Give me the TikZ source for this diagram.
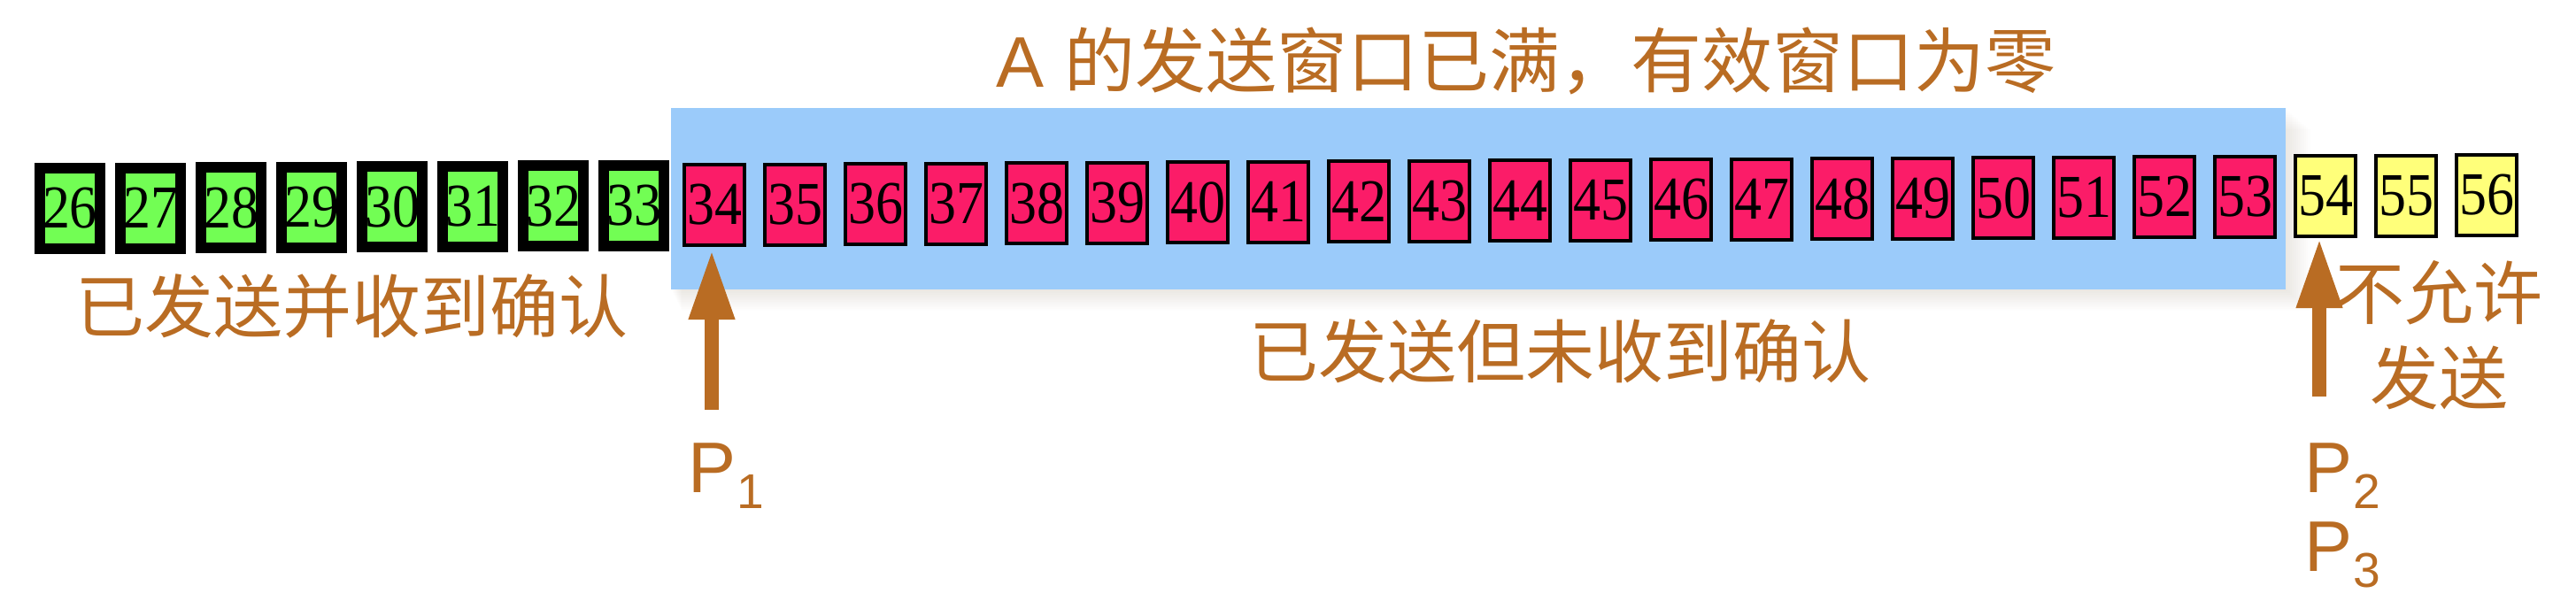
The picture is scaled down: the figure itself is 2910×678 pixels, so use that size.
\documentclass[tikz,border=0pt]{standalone}
\usepackage{fontspec}
\usetikzlibrary{arrows.meta}
\newfontfamily\numfont{Liberation Serif}[FakeStretch=0.9]
\newfontfamily\cjk{Noto Sans CJK SC}
\newfontfamily\lsans{Liberation Sans}
\definecolor{brn}{RGB}{185,108,35}
\definecolor{winblue}{RGB}{155,203,250}
\definecolor{ackgreen}{RGB}{114,254,84}
\definecolor{sentred}{RGB}{251,28,104}
\definecolor{noyellow}{RGB}{255,255,122}
\definecolor{shadowc}{RGB}{110,90,60}
\tikzset{
  seqbox/.style={draw=black, inner sep=0pt, minimum width=17pt, minimum height=22.75pt,
    font=\numfont\fontsize{17.2pt}{18pt}\selectfont},
  gbox/.style={seqbox, fill=ackgreen, line width=3pt},
  rbox/.style={seqbox, fill=sentred, line width=1pt},
  ybox/.style={seqbox, fill=noyellow, line width=1pt},
  cjklabel/.style={text=brn, inner sep=0pt, font=\cjk\fontsize{19.5pt}{24pt}\selectfont},
  plabel/.style={text=brn, inner sep=0pt, anchor=base west, font=\lsans\fontsize{20.25pt}{24pt}\selectfont},
  ptr/.style={draw=brn, line width=4pt, -{Triangle[width=12pt,length=19.75pt]}, brn}
}
\newcommand{\psub}[1]{\kern0.2pt\raisebox{-4.5pt}{\fontsize{13.8pt}{16pt}\selectfont #1}}
\begin{document}
\begin{tikzpicture}[x=0.25pt,y=-0.25pt]
\useasboundingbox (0,0) rectangle (2910,678);
% soft shadow of the window
\foreach \i in {1,...,12}
  \fill[shadowc, opacity=0.011] ({758+1*\i},{122+2*\i}) rectangle ({2582+2.3*\i},{327+2*\i});
\fill[winblue] (758,122) rectangle (2582,327);
% boxes
\foreach \n in {26,...,33}{
  \pgfmathsetmacro\cx{79+(\n-26)*91}
  \pgfmathsetmacro\cy{184-(\cx-79)*0.0047+51.5}
  \node[gbox] (b\n) at (\cx,\cy) {\n};
}
\foreach \n in {34,...,53}{
  \pgfmathsetmacro\cx{79+(\n-26)*91}
  \pgfmathsetmacro\cy{184-(\cx-807)*0.0055+47.5}
  \node[rbox] (b\n) at (\cx,\cy) {\n};
}
\foreach \n in {54,...,56}{
  \pgfmathsetmacro\cx{79+(\n-26)*91}
  \pgfmathsetmacro\cy{184-(\cx-807)*0.0055+47.5}
  \node[ybox] (b\n) at (\cx,\cy) {\n};
}
% title
\node[text=brn, inner sep=0pt, anchor=base west] (title) at (1125,98)
  {{\lsans\fontsize{20.25pt}{24pt}\selectfont A }{\cjk\fontsize{20pt}{24pt}\selectfont 的发送窗口已满，有效窗口为零}};
% labels
\node[cjklabel] (acked) at (397,346) {已发送并收到确认};
\node[cjklabel] (unacked) at (1762,397) {已发送但未收到确认};
\node[cjklabel, align=center, font=\cjk\fontsize{19.5pt}{24pt}\selectfont] (notallowed) at (2755,379) {不允许\\发送};
% pointers
\coordinate (t1) at (804,463);
\coordinate (t2) at (2620,448);
\draw[ptr] (t1) -- ([xshift=-0.75pt,yshift=-0.75pt]b34.south);
\draw[ptr] (t2) -- ([xshift=-1.75pt,yshift=0pt]b54.south);
\node[plabel] (p1) at (777,556) {P\psub{1}};
\node[plabel] (p2) at (2603,556) {P\psub{2}};
\node[plabel] (p3) at (2603,645) {P\psub{3}};
\end{tikzpicture}
\end{document}
